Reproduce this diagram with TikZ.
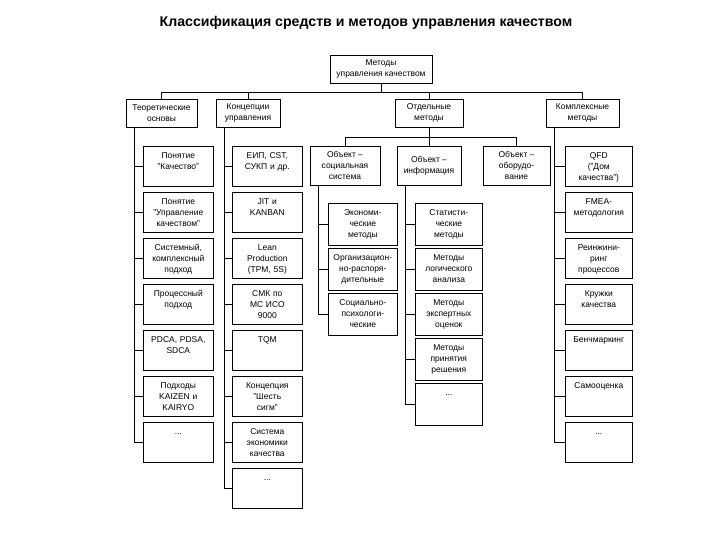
\documentclass[tikz,border=0pt]{standalone}
\usepackage{fontspec}
\setmainfont{Liberation Sans}
\tikzset{
  frame/.style={draw,line width=0.6bp,inner sep=0pt,align=center,font=\fontsize{8.5}{11}\selectfont},
  head/.style={frame,minimum height=28bp},
  lst/.style={frame,anchor=north west,inner xsep=3bp,text width=#1,text height=12bp,text depth=28bp},
  sub/.style={lst=#1,text depth=30bp},
  wire/.style={line width=0.6bp}
}

\begin{document}
\begin{tikzpicture}[x=1bp,y=-1bp]
\useasboundingbox (0,0) rectangle (720,540);
\node[font=\bfseries\fontsize{14.2}{17}\selectfont] (title) at (366,23) {Классификация средств и методов управления качеством};
\node[head,minimum width=102bp] (top) at (381,69) {Методы\\управления качеством};

\node[head,minimum width=71bp] (teor) at (161.5,113) {Теоретические\\основы};
\node[head,minimum width=64bp] (konc) at (248,113) {Концепции\\управления};
\node[head,minimum width=68bp] (otd) at (429,113) {Отдельные\\методы};
\node[head,minimum width=73bp] (kompl) at (582.5,113) {Комплексные\\методы};

% теоретические основы
\node[lst=64bp] (t1) at (143,146) {Понятие\\"Качество"};
\node[lst=64bp] (t2) at (143,192) {Понятие\\"Управление\\качеством"};
\node[lst=64bp] (t3) at (143,238) {Системный,\\комплексный\\подход};
\node[lst=64bp] (t4) at (143,284) {Процессный\\подход};
\node[lst=64bp] (t5) at (143,330) {PDCA, PDSA,\\SDCA};
\node[lst=64bp] (t6) at (143,376) {Подходы\\KAIZEN и\\KAIRYO};
\node[lst=64bp] (t7) at (143,422) {...};

% концепции управления
\node[lst=64bp] (c1) at (232,146) {ЕИП, CST,\\СУКП и др.};
\node[lst=64bp] (c2) at (232,192) {JIT и\\KANBAN};
\node[lst=64bp] (c3) at (232,238) {Lean\\Production\\(TPM, 5S)};
\node[lst=64bp] (c4) at (232,284) {СМК по\\МС ИСО\\9000};
\node[lst=64bp] (c5) at (232,330) {TQM};
\node[lst=64bp] (c6) at (232,376) {Концепция\\"Шесть\\сигм"};
\node[lst=64bp] (c7) at (232,422) {Система\\экономики\\качества};
\node[lst=64bp] (c8) at (232,468) {...};

% отдельные методы
\node[head,minimum width=70bp,minimum height=39bp] (soc) at (345,165.5) {Объект –\\социальная\\система};
\node[head,minimum width=64bp,minimum height=39bp] (info) at (429,165.5) {Объект –\\информация};
\node[head,minimum width=67bp,minimum height=39bp] (obor) at (516.5,165.5) {Объект –\\оборудо-\\вание};

\node[sub=63bp] (e1) at (328,203) {Экономи-\\ческие\\методы};
\node[sub=63bp] (e2) at (328,248) {Организацион-\\но-распоря-\\дительные};
\node[sub=63bp] (e3) at (328,293) {Социально-\\психологи-\\ческие};

\node[sub=61bp] (i1) at (415,203) {Статисти-\\ческие\\методы};
\node[sub=61bp] (i2) at (415,248) {Методы\\логического\\анализа};
\node[sub=61bp] (i3) at (415,293) {Методы\\экспертных\\оценок};
\node[sub=61bp] (i4) at (415,338) {Методы\\принятия\\решения};
\node[sub=61bp] (i5) at (415,383) {...};

% комплексные методы
\node[lst=61bp] (k1) at (565,146) {QFD\\("Дом\\качества")};
\node[lst=61bp] (k2) at (565,192) {FMEA-\\методология};
\node[lst=61bp] (k3) at (565,238) {Реинжини-\\ринг\\процессов};
\node[lst=61bp] (k4) at (565,284) {Кружки\\качества};
\node[lst=61bp] (k5) at (565,330) {Бенчмаркинг};
\node[lst=61bp] (k6) at (565,376) {Самооценка};
\node[lst=61bp] (k7) at (565,422) {...};

\foreach \n in {teor,konc,otd,kompl}
  \draw[wire] (top.south) -- ++(0,9) -| (\n.north);
\draw[wire] (otd.south) -- (info.north);
\draw[wire] (otd.south) -- ++(0,10) -| (soc.north);
\draw[wire] (otd.south) -- ++(0,10) -| (obor.north);

\foreach \n in {t1,t2,t3,t4,t5,t6,t7}
  \draw[wire] ([xshift=9bp]teor.south west) |- (\n.west);
\foreach \n in {c1,c2,c3,c4,c5,c6,c7,c8}
  \draw[wire] ([xshift=9bp]konc.south west) |- (\n.west);
\foreach \n in {e1,e2,e3}
  \draw[wire] ([xshift=9bp]soc.south west) |- (\n.west);
\foreach \n in {i1,i2,i3,i4,i5}
  \draw[wire] ([xshift=9bp]info.south west) |- (\n.west);
\foreach \n in {k1,k2,k3,k4,k5,k6,k7}
  \draw[wire] ([xshift=9bp]kompl.south west) |- (\n.west);
\end{tikzpicture}
\end{document}
